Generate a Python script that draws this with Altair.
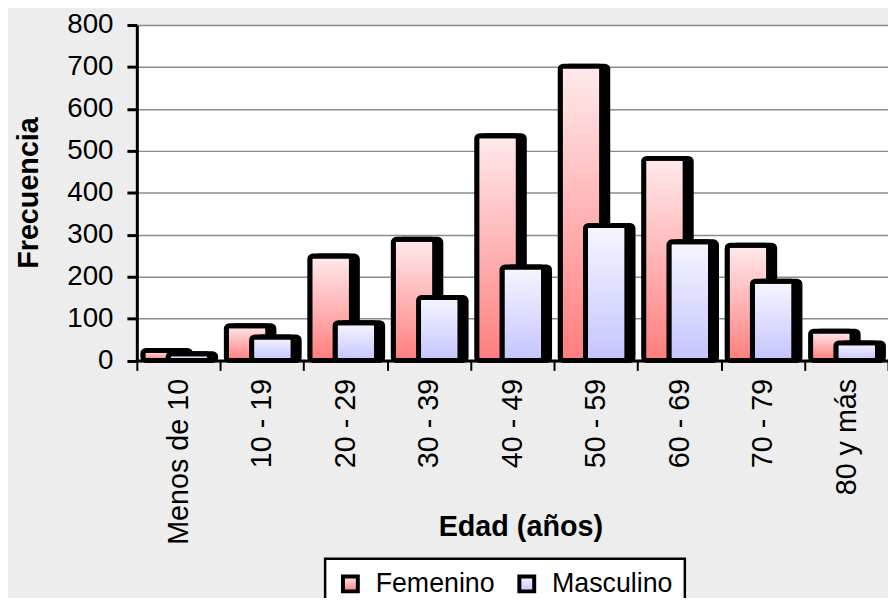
import altair as alt
import pandas as pd

categorias = ["Menos de 10", "10 - 19", "20 - 29", "30 - 39", "40 - 49",
              "50 - 59", "60 - 69", "70 - 79", "80 y  más"]
femenino = [24, 83, 249, 289, 536, 702, 482, 275, 70]
masculino = [16, 56, 90, 150, 223, 322, 283, 189, 42]
series = ["Femenino", "Masculino"]
y_ticks = [0, 100, 200, 300, 400, 500, 600, 700, 800]

rows = []
for c, f, m in zip(categorias, femenino, masculino):
    rows.append({"edad": c, "sexo": "Femenino", "frecuencia": f})
    rows.append({"edad": c, "sexo": "Masculino", "frecuencia": m})
df = pd.DataFrame(rows)

FONT = "Liberation Sans"

grad_f = ("{gradient: 'linear', x1: 0, y1: 0, x2: 0, y2: 1, "
          "stops: [{offset: 0, color: '#ffeaec'}, {offset: 1, color: '#ff7d7d'}]}")
grad_m = ("{gradient: 'linear', x1: 0, y1: 0, x2: 0, y2: 1, "
          "stops: [{offset: 0, color: '#f6f6ff'}, {offset: 1, color: '#c4c4ff'}]}")

fill_scale = alt.Scale(domain=series, range=[{"expr": grad_f}, {"expr": grad_m}])

x_enc = alt.X(
    "edad:N", sort=categorias,
    scale=alt.Scale(paddingInner=0, paddingOuter=0),
    axis=alt.Axis(
        title="Edad (años)", titleFont=FONT, titleFontSize=29, titleFontWeight="bold",
        titleColor="black", titleX=387, titleY=177, titleBaseline="alphabetic",
        titleAlign="center",
        labelFont=FONT, labelFontSize=29, labelColor="black", labelAngle=-90,
        labelAlign="right", labelBaseline="middle", labelPadding=8,
        tickBand="extent", tickSize=10, tickWidth=2, tickColor="black",
        domainColor="black", domainWidth=3, grid=False, zindex=1,
    ),
)
y_enc = alt.Y(
    "frecuencia:Q",
    scale=alt.Scale(domain=[0, 800], nice=False),
    axis=alt.Axis(
        values=y_ticks, title="Frecuencia", titleFont=FONT, titleFontSize=29,
        titleFontWeight="bold", titleColor="black", titleAngle=270,
        titleX=-100, titleY=169, titleBaseline="alphabetic", titleAlign="center",
        labelFont=FONT, labelFontSize=28, labelColor="black", labelPadding=14,
        tickSize=10, tickWidth=3, tickColor="black",
        domainColor="black", domainWidth=3,
        grid=True, gridColor="#8c8c8c", gridWidth=1.5,
    ),
)

base = alt.Chart(df)
fem = base.transform_filter(alt.datum.sexo == "Femenino")
mas = base.transform_filter(alt.datum.sexo == "Masculino")

BW = 42
SW = 5

shadow_f = fem.mark_bar(size=BW, xOffset=-15 + 6, yOffset=5, fill="black",
                        stroke="black", strokeWidth=SW, cornerRadius=3).encode(x=x_enc, y=y_enc)
bar_f = fem.mark_bar(size=BW, xOffset=-15, stroke="black", strokeWidth=SW,
                     cornerRadius=3).encode(
    x=x_enc, y=y_enc,
    fill=alt.Fill("sexo:N", scale=fill_scale, legend=alt.Legend(
        title=None, orient="none", legendX=190, legendY=538.5, direction="horizontal",
        labelFont=FONT, labelFontSize=27, labelColor="black", symbolType="square",
        symbolSize=225, symbolStrokeColor="black", symbolStrokeWidth=4,
        labelOffset=12, columnPadding=16, padding=12,
        strokeColor="black", fillColor="white",
    )),
)
shadow_m = mas.mark_bar(size=BW, xOffset=10.5 + 6, yOffset=5, fill="black",
                        stroke="black", strokeWidth=SW, cornerRadius=3).encode(x=x_enc, y=y_enc)
bar_m = mas.mark_bar(size=BW, xOffset=10.5, stroke="black", strokeWidth=SW,
                     cornerRadius=3).encode(
    x=x_enc, y=y_enc,
    fill=alt.Fill("sexo:N", scale=fill_scale, legend=None),
)

chart = alt.layer(shadow_f, bar_f, shadow_m, bar_m).properties(
    width=758, height=338.5,
    background="#ededed",
    autosize=alt.AutoSizeParams(type="none"),
    padding={"left": 130, "top": 14.5, "right": 0, "bottom": 237},
).configure_view(
    fill="white", stroke="transparent"
).configure_legend(
    strokeWidth=2.5
)

chart.save("out.html", embed_options={"renderer": "svg", "actions": False})
